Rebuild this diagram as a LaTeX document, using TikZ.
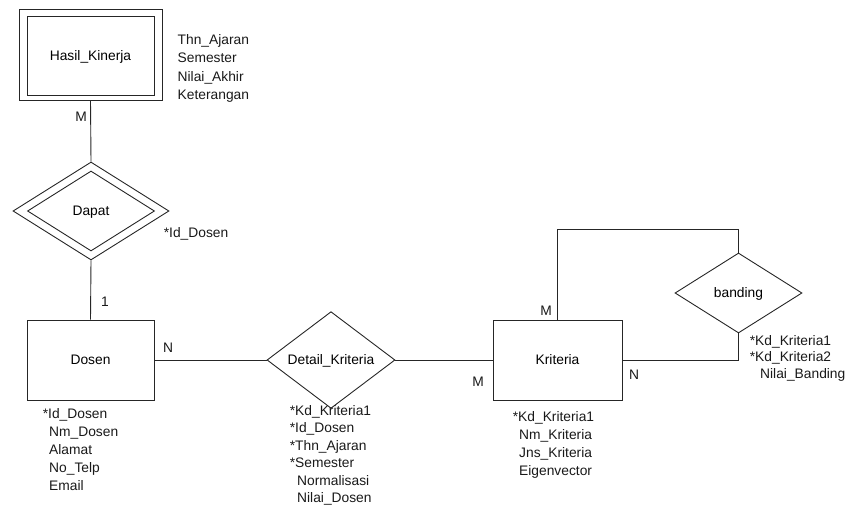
\documentclass[tikz,border=0pt]{standalone}
\usepackage{fontspec}
\setmainfont{Liberation Sans}
\usetikzlibrary{shapes.geometric}
\tikzset{
  ln/.style={line width=0.9pt, draw=black!85},
  entity/.style={ln, rectangle, inner sep=0pt, text height=10pt, text depth=0pt,
     font=\fontsize{13.8}{18}\selectfont},
  relship/.style={ln, diamond, inner sep=0pt, text height=10pt, text depth=0pt,
     font=\fontsize{13.8}{18}\selectfont},
  attr/.style={anchor=north west, inner sep=0pt, align=left, text=black!90},
  card/.style={inner sep=0pt, font=\fontsize{13.8}{18}\selectfont, text=black!90}
}
\begin{document}
\begin{tikzpicture}[x=1pt,y=-1pt]
\useasboundingbox (0,0) rectangle (851,510);
% entities
\node[entity, minimum width=143pt, minimum height=91pt] (hk) at (90.5,54.5) {};
\node[entity, minimum width=127pt, minimum height=79pt] (hkin) at (90.5,55.5) {Hasil\_Kinerja};
\node[entity, minimum width=127pt, minimum height=80pt] (dosen) at (90.5,360) {Dosen};
\node[entity, minimum width=129pt, minimum height=80pt] (kriteria) at (557.5,360) {Kriteria};
% relationships
\node[relship, minimum width=156pt, minimum height=98pt] (dapat) at (91,211) {};
\node[relship, minimum width=127pt, minimum height=80pt] (dapatin) at (91,211) {Dapat};
\node[relship, minimum width=128pt, minimum height=80pt] (detail) at (331,360) {Detail\_Kriteria};
\node[relship, minimum width=127pt, minimum height=80pt] (banding) at (738.5,293) {banding};
\coordinate (loop) at (738.5,229);
% connectors
\draw[ln] (hk.south) -- (dapat.north);
\draw[ln] (dapat.south) -- (dosen.north);
\draw[ln] (dosen.east) -- (detail.west);
\draw[ln] (detail.east) -- (kriteria.west);
\draw[ln] (kriteria.north) |- (loop) -- (banding.north);
\draw[ln] (banding.south) |- (kriteria.east);
% cardinalities
\node[card] (c1) at (81,117) {M};
\node[card] (c2) at (105,302) {1};
\node[card] (c3) at (168,348) {N};
\node[card] (c4) at (478,382) {M};
\node[card] (c5) at (546,311) {M};
\node[card] (c6) at (634,375) {N};
% attributes
\node[attr, font=\fontsize{13.8}{18.5}\selectfont] (a1) at (177.5,34.3)
  {Thn\_Ajaran\\Semester\\Nilai\_Akhir\\Keterangan};
\node[attr, font=\fontsize{13.8}{18}\selectfont] (a2) at (169,227) {\llap{*}Id\_Dosen};
\node[attr, font=\fontsize{13.8}{18}\selectfont] (a3) at (48,408)
  {\llap{*}Id\_Dosen\\\hspace{1pt}Nm\_Dosen\\\hspace{1pt}Alamat\\\hspace{1pt}No\_Telp\\\hspace{1pt}Email};
\node[attr, font=\fontsize{13.8}{17.5}\selectfont] (a4) at (295,405)
  {\llap{*}Kd\_Kriteria1\\\llap{*}Id\_Dosen\\\llap{*}Thn\_Ajaran\\\llap{*}Semester\\\hspace{2pt}Normalisasi\\\hspace{2pt}Nilai\_Dosen};
\node[attr, font=\fontsize{13.8}{18}\selectfont] (a5) at (518,411)
  {\llap{*}Kd\_Kriteria1\\\hspace{1pt}Nm\_Kriteria\\\hspace{1pt}Jns\_Kriteria\\\hspace{1pt}Eigenvector};
\node[attr, font=\fontsize{13.8}{16.5}\selectfont] (a6) at (755,335)
  {\llap{*}Kd\_Kriteria1\\\llap{*}Kd\_Kriteria2\\\hspace{5pt}Nilai\_Banding};
\end{tikzpicture}
\end{document}
